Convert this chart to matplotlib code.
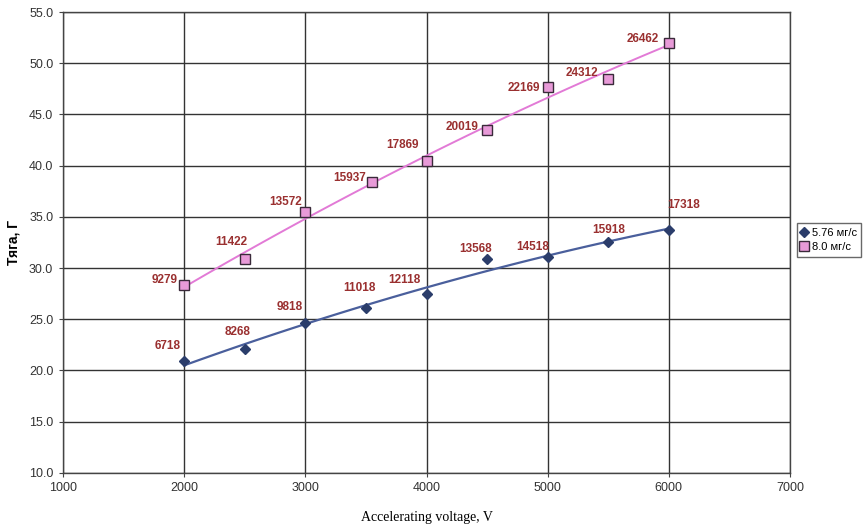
import numpy as np
import matplotlib.pyplot as plt

# thrust vs accelerating voltage for two mass flow rates
volt_a = [2000, 2500, 3000, 3500, 4000, 4500, 5000, 5500, 6000]
thrust_a = [20.9, 22.1, 24.6, 26.1, 27.5, 30.9, 31.1, 32.5, 33.7]
labels_a = ['6718', '8268', '9818', '11018', '12118', '13568', '14518', '15918', '17318']

volt_b = [2000, 2500, 3000, 3550, 4000, 4500, 5000, 5500, 6000]
thrust_b = [28.3, 30.9, 35.5, 38.4, 40.5, 43.5, 47.7, 48.5, 52.0]
labels_b = ['9279', '11422', '13572', '15937', '17869', '20019', '22169', '24312', '26462']

# label offsets in points (dx, dy) from each marker
offs_a = [(-12, 11), (-5, 12), (-11, 12), (-5, 14), (-16, 10), (-8, 7), (-11, 7), (0, 9), (11, 18)]
offs_b = [(-14, 4), (-10, 12), (-14, 7), (-16, 3), (-17, 11), (-18, 2), (-17, -1), (-19, 4), (-19, 3)]

label_color = '#9a3030'
blue = '#2b3d6b'
pink = '#e27ad6'

fig = plt.figure(figsize=(8.67, 5.27), dpi=100)
ax = fig.add_axes([0.0727, 0.103, 0.8385, 0.874])

# second order trendlines
xs = np.linspace(2000, 6000, 100)
ca = np.polyfit(volt_a, thrust_a, 2)
cb = np.polyfit(volt_b, thrust_b, 2)
ax.plot(xs, np.polyval(ca, xs), color='#4a5f9c', lw=1.6, zorder=3)
ax.plot(xs, np.polyval(cb, xs), color=pink, lw=1.4, zorder=3)

ax.plot(volt_a, thrust_a, ls='none', marker='D', ms=5.5, mfc=blue, mec=blue,
        label='5.76 мг/с', zorder=4)
ax.plot(volt_b, thrust_b, ls='none', marker='s', ms=7, mfc='#e89ad8', mec='#3a2a3a',
        mew=1.0, label='8.0 мг/с', zorder=4)

for x, y, t, o in zip(volt_a, thrust_a, labels_a, offs_a):
    ax.annotate(t, (x, y), xytext=o, textcoords='offset points', ha='center',
                va='center', fontsize=8.5, fontweight='bold', color=label_color,
                family='Liberation Sans')
for x, y, t, o in zip(volt_b, thrust_b, labels_b, offs_b):
    ax.annotate(t, (x, y), xytext=o, textcoords='offset points', ha='center',
                va='center', fontsize=8.5, fontweight='bold', color=label_color,
                family='Liberation Sans')

ax.set_xlim(1000, 7000)
ax.set_ylim(10, 55)
ax.set_xticks(range(1000, 7001, 1000))
ax.set_yticks(np.arange(10, 55.1, 5))
ax.set_yticklabels([f'{v:.1f}' for v in np.arange(10, 55.1, 5)])
ax.grid(True, color='#333333', lw=1.0)
ax.set_axisbelow(True)
for s in ax.spines.values():
    s.set_color('#444444')
    s.set_linewidth(1.0)
ax.tick_params(labelsize=9, length=3, color='#444444', pad=4)
for lab in ax.get_xticklabels() + ax.get_yticklabels():
    lab.set_family('Liberation Sans')
    lab.set_color('#333333')

ax.set_xlabel('Accelerating voltage, V', family='Liberation Serif', fontsize=10,
              labelpad=12)
ax.set_ylabel('Тяга, Г', family='Liberation Sans', fontsize=10, fontweight='bold',
              labelpad=6)

leg = ax.legend(loc='center left', bbox_to_anchor=(1.006, 0.505), fontsize=8,
                frameon=True, fancybox=False, edgecolor='#444444',
                handlelength=0.6, handletextpad=0.35, borderpad=0.4,
                labelspacing=0.4, borderaxespad=0.2)
for t in leg.get_texts():
    t.set_family('Liberation Sans')

fig.savefig('out.png', dpi=100)
